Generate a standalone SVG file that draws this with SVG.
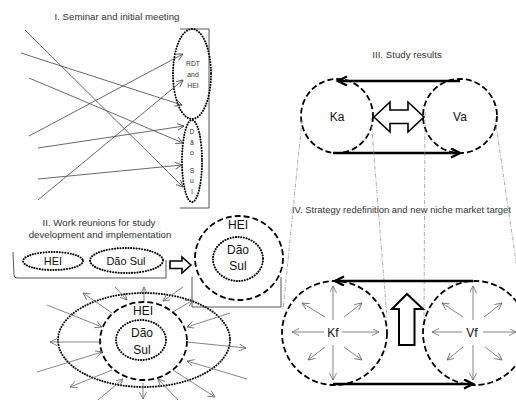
<svg xmlns="http://www.w3.org/2000/svg" width="516" height="400" viewBox="0 0 516 400">
<defs>
<style>
text{font-family:"Liberation Sans",Arial,sans-serif;fill:#111}
.title{font-size:9.7px;fill:#333}
.lbl{font-size:12px;text-anchor:middle}
.small{font-size:6.8px;text-anchor:middle;fill:#333}
.dot{fill:none;stroke:#000;stroke-width:2;stroke-dasharray:0.1 2.6;stroke-linecap:round}
.dash{fill:none;stroke:#000;stroke-width:1.8;stroke-dasharray:6 3}
.thin{fill:none;stroke:#444;stroke-width:0.8;marker-end:url(#ah)}
.gray{fill:none;stroke:#666;stroke-width:0.8;marker-end:url(#ahg)}
.thick{fill:none;stroke:#000;stroke-width:2.6;marker-end:url(#ahk)}
.dd{fill:none;stroke:#888;stroke-width:0.7;stroke-dasharray:4 1.5 1 1.5}
.brk{fill:none;stroke:#444;stroke-width:0.9}
.block{fill:#fff;stroke:#000;stroke-width:1.6;stroke-linejoin:miter}
</style>
<marker id="ah" markerUnits="userSpaceOnUse" markerWidth="10" markerHeight="10" refX="7" refY="3.5" orient="auto"><path d="M0,0 L7,3.5 L0,7" fill="none" stroke="#444" stroke-width="0.8"/></marker>
<marker id="ahg" markerUnits="userSpaceOnUse" markerWidth="10" markerHeight="10" refX="7" refY="3.5" orient="auto"><path d="M0,0 L7,3.5 L0,7" fill="none" stroke="#666" stroke-width="0.8"/></marker>
<marker id="ahk" markerUnits="userSpaceOnUse" markerWidth="14" markerHeight="12" refX="10" refY="5" orient="auto"><path d="M1,0.5 L10,5 L1,9.5" fill="none" stroke="#000" stroke-width="2.4"/></marker>
</defs>
<rect width="516" height="400" fill="#fff"/>

<g id="titles">
<text class="title" x="117" y="20" text-anchor="middle">I. Seminar and initial meeting</text>
<text class="title" x="99" y="226" text-anchor="middle">II. Work reunions for study</text>
<text class="title" x="100" y="238" text-anchor="middle">development and implementation</text>
<text class="title" x="407" y="58" text-anchor="middle">III. Study results</text>
<text class="title" x="292" y="213" style="font-size:9.45px">IV. Strategy redefinition and new niche market target</text>
</g>

<g id="brackets">
<path class="brk" d="M180,29 L209,29 L209,208 L180,208"/>
<path class="brk" d="M13,252 L14,275 Q14,278 17,278 L166,278 L166,260"/>
<path class="brk" d="M192,277 L192,307 L281,307 L281,277"/>
</g>

<g id="node-rdt-hei">
<ellipse class="dot" cx="192" cy="74" rx="19" ry="45"/>
<text class="small" x="193" y="66">RDT</text>
<text class="small" x="193" y="77">and</text>
<text class="small" x="193" y="88">HEI</text>
</g>
<g id="node-dao-sul-1">
<ellipse class="dot" cx="192" cy="161" rx="10" ry="41"/>
<text class="small" x="192" y="134">D</text>
<text class="small" x="192" y="145">ã</text>
<text class="small" x="192" y="155">o</text>
<text class="small" x="192" y="173">S</text>
<text class="small" x="192" y="183">u</text>
<text class="small" x="192" y="194">l</text>
</g>

<g id="node-hei-2">
<ellipse class="dot" cx="53" cy="261" rx="30" ry="9"/>
<text class="lbl" x="53" y="265" style="font-size:11px">HEI</text>
</g>
<g id="node-dao-sul-2">
<ellipse class="dot" cx="126.5" cy="260.5" rx="36.5" ry="12.5"/>
<text class="lbl" x="126" y="264.5" style="font-size:11px">Dão Sul</text>
</g>

<g id="node-merged">
<ellipse class="dash" cx="239" cy="258" rx="44" ry="42"/>
<ellipse class="dot" cx="238" cy="259" rx="25" ry="22"/>
<text class="lbl" x="238" y="229">HEI</text>
<text class="lbl" x="238" y="254">Dão</text>
<text class="lbl" x="238" y="270">Sul</text>
</g>

<g id="node-burst">
<ellipse class="dot" cx="144" cy="340" rx="86" ry="47"/>
<ellipse class="dash" cx="143.5" cy="341" rx="43.5" ry="39"/>
<ellipse class="dot" cx="141" cy="340" rx="25" ry="20"/>
<text class="lbl" x="143" y="315">HEI</text>
<text class="lbl" x="142" y="337">Dão</text>
<text class="lbl" x="142" y="354">Sul</text>
</g>

<g id="node-ka">
<ellipse class="dash" cx="337" cy="116" rx="36" ry="37"/>
<text class="lbl" x="337" y="121">Ka</text>
</g>
<g id="node-va">
<ellipse class="dash" cx="460" cy="116" rx="37" ry="37"/>
<text class="lbl" x="460" y="121">Va</text>
</g>
<g id="node-kf">
<ellipse class="dash" cx="334.5" cy="333" rx="52.5" ry="52"/>
<text class="lbl" x="333" y="337">Kf</text>
</g>
<g id="node-vf">
<ellipse class="dash" cx="475" cy="333" rx="52" ry="52"/>
<text class="lbl" x="472" y="337">Vf</text>
</g>

<g id="connectors">
<line class="thin" x1="25" y1="30" x2="183" y2="187"/>
<line class="thin" x1="21" y1="53" x2="182" y2="105"/>
<line class="thin" x1="29" y1="78" x2="183" y2="143"/>
<line class="thin" x1="29" y1="136" x2="183" y2="54"/>
<line class="thin" x1="38" y1="148" x2="184" y2="126"/>
<line class="thin" x1="38" y1="179" x2="182" y2="165"/>
<line class="thin" x1="38" y1="200" x2="183" y2="80"/>

<path class="block" d="M191,265 L182,257 L182,261 L170,261 L170,268.5 L182,268.5 L182,273 Z"/>

<line class="gray" x1="112" y1="313" x2="83" y2="293"/>
<line class="gray" x1="144" y1="301" x2="144" y2="287"/>
<line class="gray" x1="173" y1="312" x2="193" y2="300"/>
<line class="gray" x1="102" y1="342" x2="50" y2="342"/>
<line class="gray" x1="187" y1="342" x2="246" y2="348"/>
<line class="gray" x1="112" y1="370" x2="70" y2="387"/>
<line class="gray" x1="143" y1="383" x2="143" y2="399"/>
<line class="gray" x1="173" y1="370" x2="215" y2="397"/>
<line class="gray" x1="115" y1="287" x2="127" y2="300"/>
<line class="gray" x1="183" y1="287" x2="163" y2="301"/>
<line class="gray" x1="47" y1="305" x2="102" y2="327"/>
<line class="gray" x1="230" y1="313" x2="187" y2="327"/>
<line class="gray" x1="37" y1="372" x2="102" y2="352"/>
<line class="gray" x1="247" y1="379" x2="187" y2="361"/>
<line class="gray" x1="98" y1="400" x2="123" y2="379"/>
<line class="gray" x1="178" y1="400" x2="158" y2="379"/>

<line class="thick" x1="460" y1="81" x2="338" y2="81"/>
<line class="thick" x1="333" y1="153" x2="460" y2="153"/>
<path class="block" d="M374,117 L390,102 L390,110 L408,110 L408,102 L424,117 L408,132 L408,123.5 L390,123.5 L390,132 Z"/>

<line class="dd" x1="302" y1="120" x2="283" y2="310"/>
<line class="dd" x1="371" y1="118" x2="387" y2="318"/>
<line class="dd" x1="425" y1="112" x2="424" y2="320"/>
<line class="dd" x1="495" y1="118" x2="518" y2="275"/>

<line class="thick" x1="473" y1="281" x2="335" y2="281"/>
<line class="thick" x1="333" y1="384" x2="473" y2="384"/>
<path class="block" style="stroke-width:2" d="M407,294 L423,309 L414.5,309 L414.5,345 L399,345 L399,309 L392,309 Z"/>

<line class="gray" x1="324" y1="332" x2="292" y2="332"/>
<line class="gray" x1="342" y1="332" x2="379" y2="332"/>
<line class="gray" x1="333" y1="320" x2="333" y2="286"/>
<line class="gray" x1="333" y1="345" x2="333" y2="380"/>
<line class="gray" x1="325" y1="317" x2="302" y2="303"/>
<line class="gray" x1="344" y1="317" x2="362" y2="303"/>
<line class="gray" x1="325" y1="347" x2="308" y2="360"/>
<line class="gray" x1="344" y1="347" x2="362" y2="360"/>

<line class="gray" x1="462" y1="332" x2="432" y2="332"/>
<line class="gray" x1="483" y1="332" x2="516" y2="332"/>
<line class="gray" x1="473" y1="320" x2="473" y2="286"/>
<line class="gray" x1="473" y1="345" x2="473" y2="380"/>
<line class="gray" x1="463" y1="317" x2="442" y2="303"/>
<line class="gray" x1="484" y1="317" x2="502" y2="303"/>
<line class="gray" x1="463" y1="347" x2="447" y2="360"/>
<line class="gray" x1="485" y1="347" x2="502" y2="360"/>
</g>
</svg>
